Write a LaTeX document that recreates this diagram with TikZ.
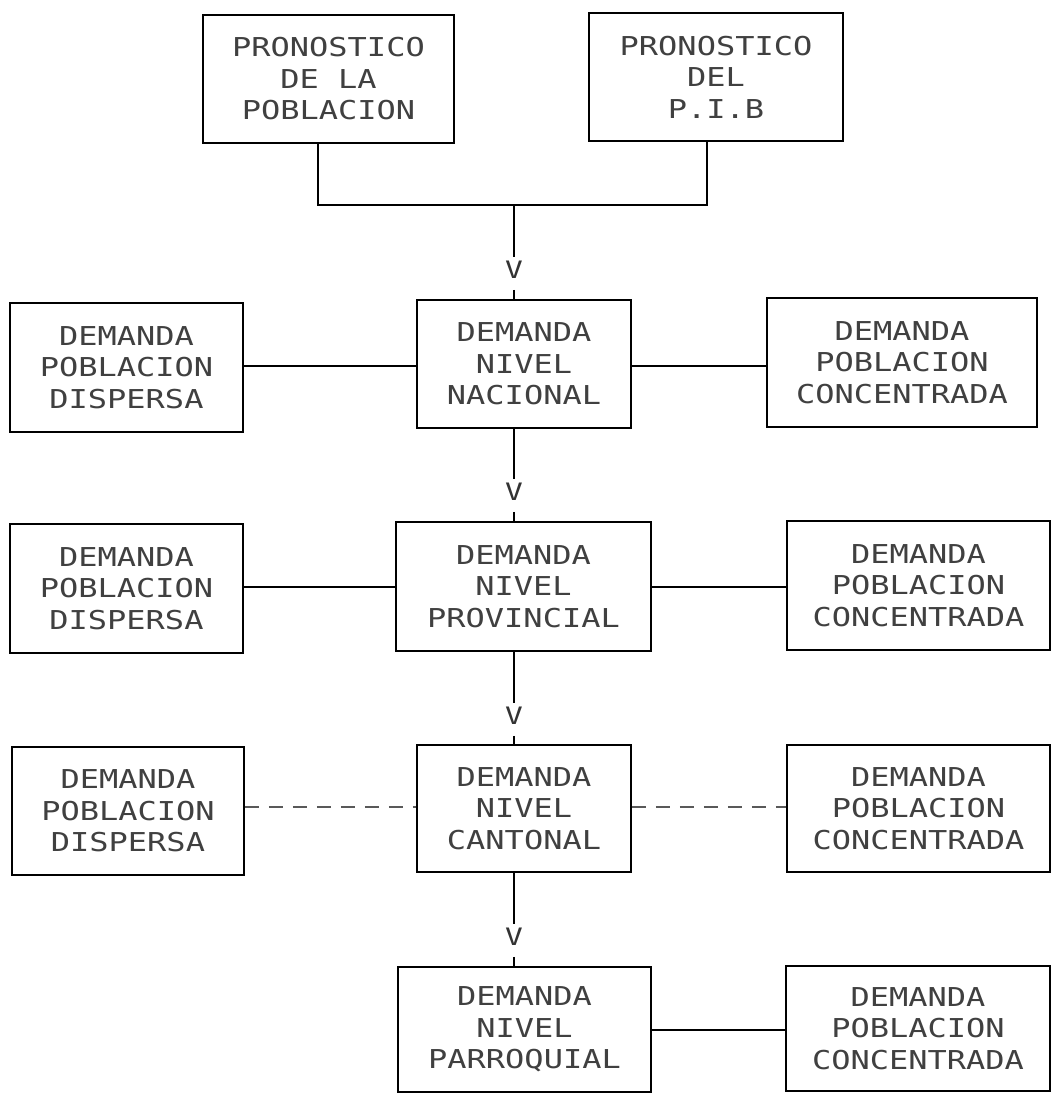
\documentclass[tikz,border=0pt]{standalone}
\usepackage{fontspec}
\newfontfamily\dmfont[FakeStretch=1.23]{DejaVu Sans Mono}
\begin{document}
\begin{tikzpicture}[x=1pt,y=-1pt,
  box/.style={draw, line width=1.5pt, align=center, inner sep=0pt,
    font=\dmfont\fontsize{26}{31.5}\selectfont, text=black!75},
  conn/.style={line width=1.5pt},
  faint/.style={line width=1.2pt, dashed, dash pattern=on 14pt off 10pt, black!65},
  arrowv/.style={inner sep=0pt, font=\dmfont\fontsize{24}{28}\selectfont, text=black!80},
  gapin/.style={shorten >=4pt},
  gapout/.style={shorten <=11pt}]
\fill[white] (0,0) rectangle (1052,1102);
\useasboundingbox (0,0) rectangle (1052,1102);

% top boxes
\node[box, minimum width=251pt, minimum height=128pt] (pl) at (328.5,79) {PRONOSTICO\\DE LA\\POBLACION};
\node[box, minimum width=254pt, minimum height=128pt] (pib) at (716,77) {PRONOSTICO\\DEL\\P.I.B};

% row 1
\node[box, minimum width=233pt, minimum height=129pt] (d1) at (126.5,367.5) {DEMANDA\\POBLACION\\DISPERSA};
\node[box, minimum width=214pt, minimum height=128pt] (n1) at (524,364) {DEMANDA\\NIVEL\\NACIONAL};
\node[box, minimum width=270pt, minimum height=129pt] (c1) at (902,362.5) {DEMANDA\\POBLACION\\CONCENTRADA};

% row 2
\node[box, minimum width=233pt, minimum height=129pt] (d2) at (126.5,588.5) {DEMANDA\\POBLACION\\DISPERSA};
\node[box, minimum width=255pt, minimum height=129pt] (n2) at (523.5,586.5) {DEMANDA\\NIVEL\\PROVINCIAL};
\node[box, minimum width=263pt, minimum height=129pt] (c2) at (918.5,585.5) {DEMANDA\\POBLACION\\CONCENTRADA};

% row 3
\node[box, minimum width=232pt, minimum height=128pt] (d3) at (128,811) {DEMANDA\\POBLACION\\DISPERSA};
\node[box, minimum width=214pt, minimum height=127pt] (n3) at (524,808.5) {DEMANDA\\NIVEL\\CANTONAL};
\node[box, minimum width=263pt, minimum height=127pt] (c3) at (918.5,808.5) {DEMANDA\\POBLACION\\CONCENTRADA};

% row 4
\node[box, minimum width=253pt, minimum height=125pt] (n4) at (524.5,1029.5) {DEMANDA\\NIVEL\\PARROQUIAL};
\node[box, minimum width=264pt, minimum height=125pt] (c4) at (918,1028.5) {DEMANDA\\POBLACION\\CONCENTRADA};

% junction of the two forecasts
\coordinate (j1) at (318,205);
\coordinate (j2) at (707,205);
\coordinate (jm) at (514,205);
\draw[conn] (pl.south -| j1) -- (j1) -- (j2) -- (pib.south -| j2);

% V marks
\node[arrowv] (v0) at (514,270) {V};
\node[arrowv] (v1) at (514,492) {V};
\node[arrowv] (v2) at (514,716) {V};
\node[arrowv] (v3) at (514,937) {V};

\draw[conn, gapin] (jm) -- (v0.north);
\draw[conn, gapout] (v0.south) -- (v0.south |- n1.north);
\draw[conn, gapin] (v1.north |- n1.south) -- (v1.north);
\draw[conn, gapout] (v1.south) -- (v1.south |- n2.north);
\draw[conn, gapin] (v2.north |- n2.south) -- (v2.north);
\draw[conn, gapout] (v2.south) -- (v2.south |- n3.north);
\draw[conn, gapin] (v3.north |- n3.south) -- (v3.north);
\draw[conn, gapout] (v3.south) -- (v3.south |- n4.north);

% horizontal connectors
\coordinate (r1) at (0,366);
\coordinate (r2) at (0,587);
\coordinate (r3) at (0,807);
\coordinate (r4) at (0,1030);
\draw[conn] (d1.east |- r1) -- (n1.west |- r1);
\draw[conn] (n1.east |- r1) -- (c1.west |- r1);
\draw[conn] (d2.east |- r2) -- (n2.west |- r2);
\draw[conn] (n2.east |- r2) -- (c2.west |- r2);
\draw[faint] (d3.east |- r3) -- (n3.west |- r3);
\draw[faint] (n3.east |- r3) -- (c3.west |- r3);
\draw[conn] (n4.east |- r4) -- (c4.west |- r4);
\end{tikzpicture}
\end{document}
